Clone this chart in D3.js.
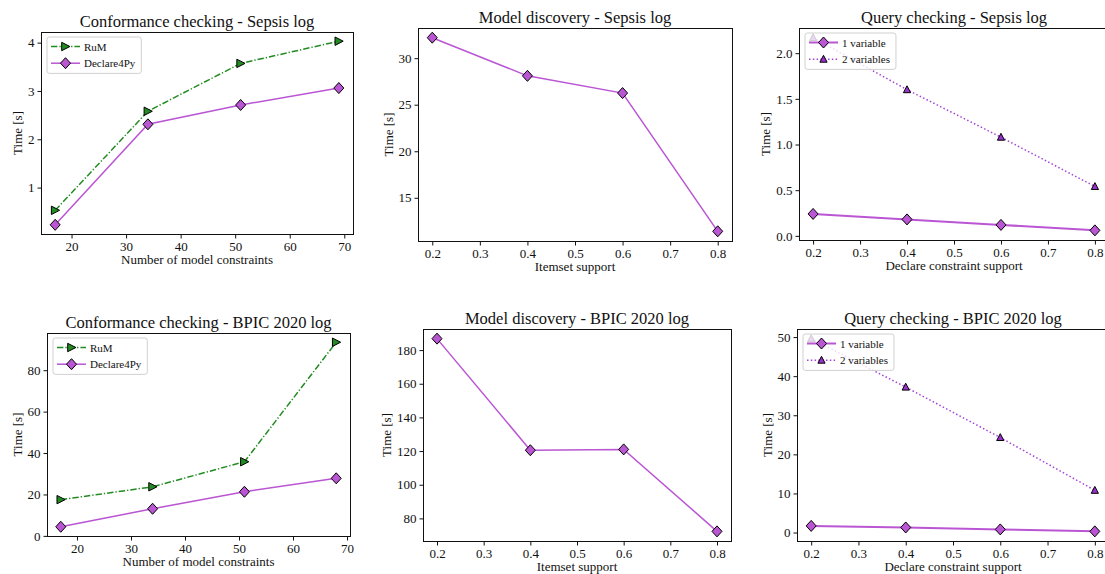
<!DOCTYPE html>
<html>
<head>
<meta charset="utf-8">
<script src="https://cdn.jsdelivr.net/npm/d3@7"></script>
<style>
  body { margin: 0; background: #fff; }
  text { font-family: "Liberation Serif", "Times New Roman", serif; fill: #111; }
</style>
</head>
<body>
<div id="chart"></div>
<script>
// ---- data ----
const confSizesSepsis = [17, 34, 51, 69];
const rumSepsis = [0.53, 2.58, 3.57, 4.03];
const d4pyConfSepsis = [0.23, 2.31, 2.71, 3.06];

const confSizesBpic = [17, 34, 51, 68];
const rumBpic = [17.5, 23.7, 35.8, 93.5];
const d4pyConfBpic = [4.4, 13.1, 21.3, 27.8];

const supports = [0.2, 0.4, 0.6, 0.8];
const discSepsis = [32.2, 28.1, 26.25, 11.4];
const discBpic = [186.8, 120.5, 121.0, 72.3];

const query1Sepsis = [0.24, 0.18, 0.12, 0.06];
const query2Sepsis = [2.17, 1.60, 1.08, 0.54];
const query1Bpic = [1.7, 1.3, 0.8, 0.3];
const query2Bpic = [49.6, 37.2, 24.3, 10.8];

// tick labels
const confXTicks = [20, 30, 40, 50, 60, 70];
const supportTicks = [0.2, 0.3, 0.4, 0.5, 0.6, 0.7, 0.8];
const confSepsisYTicks = [1, 2, 3, 4];
const confBpicYTicks = [0, 20, 40, 60, 80];
const discSepsisYTicks = [15, 20, 25, 30];
const discBpicYTicks = [80, 100, 120, 140, 160, 180];
const querySepsisYTicks = [0, 0.5, 1.0, 1.5, 2.0];
const queryBpicYTicks = [0, 10, 20, 30, 40, 50];

const titles = [
  "Conformance checking - Sepsis log", "Model discovery - Sepsis log", "Query checking - Sepsis log",
  "Conformance checking - BPIC 2020 log", "Model discovery - BPIC 2020 log", "Query checking - BPIC 2020 log"
];
const xLabels = ["Number of model constraints", "Itemset support", "Declare constraint support"];

// ---- styles ----
const green = "#228b22";
const orchid = "#ba55d3";
const darkOrchid = "#9932cc";

const styles = {
  rum: { name: "RuM", line: green, fill: green, dash: "6.4,2,1.3,2", width: 1.5, marker: "right" },
  d4py: { name: "Declare4Py", line: orchid, fill: orchid, dash: null, width: 1.5, marker: "diamond" },
  q1: { name: "1 variable", line: orchid, fill: orchid, dash: null, width: 2, marker: "diamond" },
  q2: { name: "2 variables", line: "#a544d8", fill: darkOrchid, dash: "1.5,2.3", width: 1.5, marker: "up" }
};

const W = 1105, H = 574;
const svg = d3.select("#chart").append("svg")
  .attr("width", W).attr("height", H)
  .style("background", "#fff");

const panels = [
  { frame: [41, 32, 353, 234], x: confSizesSepsis, series: [["rum", rumSepsis], ["d4py", d4pyConfSepsis]],
    xt: confXTicks, yt: confSepsisYTicks, xf: d3.format("d"), yf: d3.format("d"), title: titles[0], xl: xLabels[0], legend: true },
  { frame: [418, 28, 732, 241], x: supports, series: [["d4py", discSepsis]],
    xt: supportTicks, yt: discSepsisYTicks, xf: d3.format(".1f"), yf: d3.format("d"), title: titles[1], xl: xLabels[1], legend: false },
  { frame: [799, 28, 1109, 240], x: supports, series: [["q1", query1Sepsis], ["q2", query2Sepsis]],
    xt: supportTicks, yt: querySepsisYTicks, xf: d3.format(".1f"), yf: d3.format(".1f"), title: titles[2], xl: xLabels[2], legend: true },
  { frame: [47, 333, 350, 536], x: confSizesBpic, series: [["rum", rumBpic], ["d4py", d4pyConfBpic]],
    xt: confXTicks, yt: confBpicYTicks, xf: d3.format("d"), yf: d3.format("d"), title: titles[3], xl: xLabels[0], legend: true },
  { frame: [423, 329, 731, 541], x: supports, series: [["d4py", discBpic]],
    xt: supportTicks, yt: discBpicYTicks, xf: d3.format(".1f"), yf: d3.format("d"), title: titles[4], xl: xLabels[1], legend: false },
  { frame: [797, 329, 1109, 541], x: supports, series: [["q1", query1Bpic], ["q2", query2Bpic]],
    xt: supportTicks, yt: queryBpicYTicks, xf: d3.format(".1f"), yf: d3.format("d"), title: titles[5], xl: xLabels[2], legend: true }
];

// matplotlib-like 5% margins
function padded(vals) {
  const [lo, hi] = d3.extent(vals);
  const m = (hi - lo) * 0.05;
  return [lo - m, hi + m];
}

function markerPath(type) {
  if (type === "diamond") return "M0,-5.5L5,0L0,5.5L-5,0Z";
  if (type === "right") return "M-3.8,-4.2L4.4,0L-3.8,4.2Z";
  if (type === "up") return "M0,-3.9L3.6,3L-3.6,3Z";
}

function drawMarker(g, type, fill, cx, cy) {
  g.append("path")
    .attr("d", markerPath(type))
    .attr("transform", `translate(${cx},${cy})`)
    .attr("fill", fill)
    .attr("stroke", "#000")
    .attr("stroke-width", 1);
}

panels.forEach(p => {
  const [l, t, r, b] = p.frame;
  const g = svg.append("g");

  const allY = p.series.flatMap(s => s[1]);
  const xScale = d3.scaleLinear().domain(padded(p.x)).range([l, r]);
  const yScale = d3.scaleLinear().domain(padded(allY)).range([b, t]);

  // axes
  const xAxis = g.append("g")
    .attr("transform", `translate(0,${b + 0.5})`)
    .call(d3.axisBottom(xScale).tickValues(p.xt).tickFormat(p.xf).tickSize(4).tickPadding(3));
  const yAxis = g.append("g")
    .attr("transform", `translate(${l + 0.5},0)`)
    .call(d3.axisLeft(yScale).tickValues(p.yt).tickFormat(p.yf).tickSize(4).tickPadding(3));
  [xAxis, yAxis].forEach(a => {
    a.select(".domain").remove();
    a.selectAll("line").attr("stroke", "#111");
    a.selectAll("text").style("font-family", '"Liberation Serif", serif').style("font-size", "13px").attr("fill", "#111");
  });

  // clip to the frame
  const clipId = "clip" + l + "_" + t;
  g.append("clipPath").attr("id", clipId)
    .append("rect").attr("x", l).attr("y", t).attr("width", r - l).attr("height", b - t);
  const plot = g.append("g").attr("clip-path", `url(#${clipId})`);

  p.series.forEach(([key, vals]) => {
    const st = styles[key];
    const line = d3.line().x((d, i) => xScale(p.x[i])).y(d => yScale(d));
    plot.append("path")
      .datum(vals)
      .attr("d", line)
      .attr("fill", "none")
      .attr("stroke", st.line)
      .attr("stroke-width", st.width)
      .attr("stroke-dasharray", st.dash);
    vals.forEach((v, i) => drawMarker(plot, st.marker, st.fill, xScale(p.x[i]), yScale(v)));
  });

  // frame
  g.append("rect")
    .attr("x", l + 0.5).attr("y", t + 0.5)
    .attr("width", r - l).attr("height", b - t)
    .attr("fill", "none").attr("stroke", "#111").attr("stroke-width", 1);

  // title
  g.append("text")
    .attr("x", (l + r) / 2).attr("y", t - 5)
    .attr("text-anchor", "middle")
    .style("font-size", "16.5px")
    .text(p.title);

  // x label
  g.append("text")
    .attr("x", (l + r) / 2).attr("y", b + 29.5)
    .attr("text-anchor", "middle")
    .style("font-size", "13px")
    .text(p.xl);

  // y label, placed left of the tick labels
  let minX = Infinity;
  yAxis.selectAll("text").each(function() {
    minX = Math.min(minX, this.getBBox().x);
  });
  const yLabX = l + 0.5 + minX - 6;
  g.append("text")
    .attr("transform", `translate(${yLabX},${(t + b) / 2}) rotate(-90)`)
    .attr("text-anchor", "middle")
    .style("font-size", "13px")
    .text("Time [s]");

  // legend
  if (p.legend) {
    const lg = g.append("g");
    const x0 = l + 6, y0 = t + 5;
    const rowH = 16.7;
    const box = lg.append("rect")
      .attr("x", x0).attr("y", y0).attr("rx", 2.5)
      .attr("fill", "#fff").attr("fill-opacity", 0.8)
      .attr("stroke", "#d0d0d0").attr("stroke-width", 1);
    let maxW = 0;
    p.series.forEach(([key], i) => {
      const st = styles[key];
      const cy = y0 + 9.5 + i * rowH;
      lg.append("line")
        .attr("x1", x0 + 4).attr("x2", x0 + 33)
        .attr("y1", cy).attr("y2", cy)
        .attr("stroke", st.line).attr("stroke-width", st.width)
        .attr("stroke-dasharray", st.dash);
      drawMarker(lg, st.marker, st.fill, x0 + 18.5, cy);
      const tx = lg.append("text")
        .attr("x", x0 + 37).attr("y", cy + 4)
        .style("font-size", "11px")
        .text(st.name);
      maxW = Math.max(maxW, tx.node().getComputedTextLength());
    });
    box.attr("width", 37 + maxW + 6).attr("height", p.series.length * rowH + 3);
  }
});
</script>
</body>
</html>
